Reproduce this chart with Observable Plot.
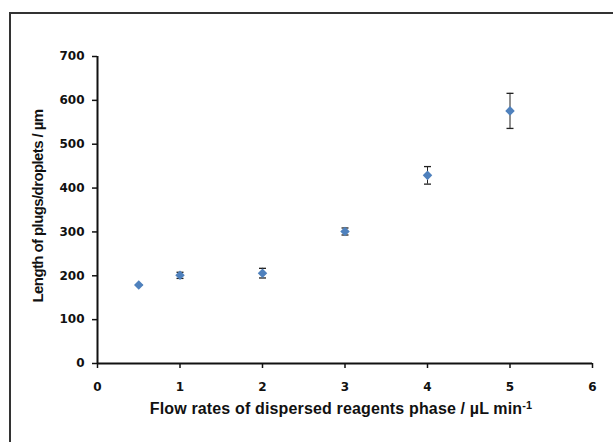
<!DOCTYPE html>
<html>
<head>
<meta charset="utf-8">
<script src="https://cdn.jsdelivr.net/npm/d3@7"></script>
<script src="https://cdn.jsdelivr.net/npm/@observablehq/plot@0.6"></script>
<style>
  html, body { margin: 0; padding: 0; background: #fff; }
  #wrap { position: relative; width: 613px; height: 442px; overflow: hidden; }
  #frame { position: absolute; left: 9px; top: 12px; width: 1000px; height: 1000px; border: 2px solid #333; pointer-events: none; }
</style>
</head>
<body>
<div id="wrap"><div id="frame"></div></div>
<script>
const flow = [0.5, 1, 2, 3, 4, 5];
const lengthUm = [179, 201, 206, 301, 429, 576];
const errUm = [0, 7, 11, 8, 20, 40];
const xTicks = [0, 1, 2, 3, 4, 5, 6];
const yTicks = [0, 100, 200, 300, 400, 500, 600, 700];
const xTitle = "Flow rates of dispersed reagents phase / µL min";
const xTitleSup = "-1";
const yTitle = "Length of plugs/droplets / µm";

const data = flow.map((x, i) => ({x, y: lengthUm[i], lo: lengthUm[i] - errUm[i], hi: lengthUm[i] + errUm[i]}));

const cap = { draw(ctx) { ctx.moveTo(-3.5, 0); ctx.lineTo(3.5, 0); } };

const tickFont = {fontFamily: "DejaVu Sans", fontWeight: "bold", fontSize: 12, fill: "#111"};
const titleFont = {fontFamily: "Liberation Sans", fontWeight: "bold", fill: "#111"};

const chart = Plot.plot({
  width: 613,
  height: 442,
  marginLeft: 97,
  marginRight: 21,
  marginTop: 56,
  marginBottom: 79,
  style: {background: "transparent", overflow: "visible"},
  x: {domain: [0, 6], ticks: xTicks, tickFormat: d3.format("d")},
  y: {domain: [0, 700], ticks: yTicks, tickFormat: d3.format("d")},
  marks: [
    Plot.axisY({ticks: yTicks, tickFormat: d3.format("d"), tickSize: 5, tickPadding: 8, strokeWidth: 1.5, stroke: "#111", label: null, ...tickFont}),
    Plot.axisX({ticks: xTicks, tickFormat: d3.format("d"), tickSize: 5, tickPadding: 14, strokeWidth: 1.5, stroke: "#111", label: null, ...tickFont}),
    Plot.ruleX([0], {stroke: "#111", strokeWidth: 2}),
    Plot.ruleY([0], {stroke: "#111", strokeWidth: 2}),
    Plot.ruleX(data, {x: "x", y1: "lo", y2: "hi", stroke: "#222", strokeWidth: 1}),
    Plot.dot(data, {x: "x", y: "lo", symbol: cap, stroke: "#222", strokeWidth: 1.3, r: 4}),
    Plot.dot(data, {x: "x", y: "hi", symbol: cap, stroke: "#222", strokeWidth: 1.3, r: 4}),
    Plot.dot(data, {x: "x", y: "y", symbol: "diamond2", r: 4.3, fill: "#4F81BD", stroke: "none"}),
    Plot.text([xTitle], {frameAnchor: "bottom", dx: -4, dy: 50, textAnchor: "middle", ...titleFont, fontSize: 16}),
    Plot.text([yTitle], {frameAnchor: "left", dx: -59, dy: -4, rotate: -90, textAnchor: "middle", ...titleFont, fontSize: 15})
  ]
});

document.getElementById("wrap").insertBefore(chart, document.getElementById("frame"));

const svg = d3.select(chart);
svg.selectAll("text").filter(function() { return this.textContent === xTitle; })
  .attr("letter-spacing", "0.15px")
  .append("tspan").attr("dy", "-0.45em").attr("font-size", "68%").text(xTitleSup);
svg.selectAll("text").filter(function() { return this.textContent === yTitle; })
  .attr("letter-spacing", "-0.6px");
</script>
</body>
</html>
